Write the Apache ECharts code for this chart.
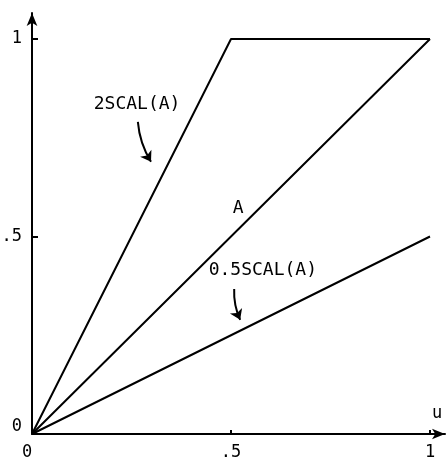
<!DOCTYPE html>
<html>
<head>
<meta charset="utf-8">
<style>
  html, body { margin: 0; padding: 0; background: #fff; }
  #chart { width: 446px; height: 460px; }
</style>
<script src="https://cdn.jsdelivr.net/npm/echarts@6/dist/echarts.min.js"></script>
</head>
<body>
<div id="chart"></div>
<script>
// Sample points along u and the three curves evaluated there
const uValues = [0, 0.5, 1];
const curveA = [0, 0.5, 1];
const curve2Scal = [0, 1, 1];      // 2·A clipped at 1
const curveHalfScal = [0, 0.25, 0.5];

// Tick values shown on both axes
const tickValues = [0, 0.5, 1];
const tickText = { 0: '0', 0.5: '.5', 1: '1' };

// Curve captions, anchored in (u, value) space
const captions = [
  { text: '2SCAL(A)', u: 0.264, v: 0.834 },
  { text: 'A', u: 0.518, v: 0.572 },
  { text: '0.5SCAL(A)', u: 0.580, v: 0.415 }
];

// Pointer arrows from captions to curves, in (u, value) space
const pointers = [
  { from: [0.266, 0.790], to: [0.299, 0.689], bend: -0.12 },
  { from: [0.508, 0.367], to: [0.523, 0.289], bend: -0.12 }
];

const INK = '#000';
const FONT = 'DejaVu Sans Mono';
const textStyle = { fontFamily: FONT, fontSize: 17, color: INK };
const captionStyle = {
  fontFamily: FONT, fontSize: 18, color: INK,
  textBorderWidth: 0, textShadowBlur: 0, opacity: 1
};

const zip = (xs, ys) => xs.map((x, i) => [x, ys[i]]);

const chart = echarts.init(document.getElementById('chart'));

chart.setOption({
  animation: false,
  backgroundColor: '#fff',
  grid: { left: 32, right: 1, top: 13, bottom: 26, outerBoundsMode: 'none' },
  xAxis: {
    type: 'value',
    min: 0,
    max: 1.0377,
    name: 'u',
    nameLocation: 'end',
    nameGap: -8,
    nameTextStyle: Object.assign({}, textStyle, {
      align: 'center', verticalAlign: 'bottom', padding: [0, 0, 12, 0]
    }),
    axisLine: {
      show: true, onZero: false,
      symbol: ['none', 'arrow'], symbolSize: [8, 13],
      lineStyle: { color: INK, width: 2 }
    },
    axisTick: {
      show: true, inside: true, length: 4,
      customValues: [0.5, 1],
      lineStyle: { color: INK, width: 2 }
    },
    axisLabel: Object.assign({}, textStyle, {
      customValues: tickValues,
      margin: 10,
      formatter: v => v === 0 ? '{z|0}' : tickText[v],
      rich: { z: Object.assign({}, textStyle, { padding: [0, 10, 0, 0] }) }
    }),
    splitLine: { show: false }
  },
  yAxis: {
    type: 'value',
    min: 0,
    max: 1.0658,
    axisLine: {
      show: true, onZero: false,
      symbol: ['none', 'arrow'], symbolSize: [8, 13],
      lineStyle: { color: INK, width: 2 }
    },
    axisTick: {
      show: true, inside: true, length: 6,
      customValues: [0.5, 1],
      lineStyle: { color: INK, width: 2 }
    },
    axisLabel: Object.assign({}, textStyle, {
      customValues: tickValues,
      margin: 10,
      formatter: v => v === 0 ? '{z|0}' : tickText[v],
      rich: { z: Object.assign({}, textStyle, { padding: [0, 0, 14, 0] }) }
    }),
    splitLine: { show: false }
  },
  series: [
    {
      name: '2SCAL(A)', type: 'line', data: zip(uValues, curve2Scal),
      symbol: 'none', lineStyle: { color: INK, width: 2 }
    },
    {
      name: 'A', type: 'line', data: zip(uValues, curveA),
      symbol: 'none', lineStyle: { color: INK, width: 2 }
    },
    {
      name: '0.5SCAL(A)', type: 'line', data: zip(uValues, curveHalfScal),
      symbol: 'none', lineStyle: { color: INK, width: 2 }
    },
    {
      name: 'captions', type: 'scatter', symbolSize: 0, silent: true,
      itemStyle: { color: INK },
      data: captions.map(c => ({ name: c.text, value: [c.u, c.v] })),
      label: Object.assign({}, captionStyle, {
        show: true, position: 'inside', formatter: p => p.name
      })
    },
    {
      name: 'pointers', type: 'lines', coordinateSystem: 'cartesian2d',
      silent: true,
      symbol: ['none', 'arrow'], symbolSize: 10,
      data: pointers.map(p => ({
        coords: [p.from, p.to],
        lineStyle: { curveness: p.bend }
      })),
      lineStyle: { color: INK, width: 2, opacity: 1 }
    }
  ]
});
</script>
</body>
</html>
